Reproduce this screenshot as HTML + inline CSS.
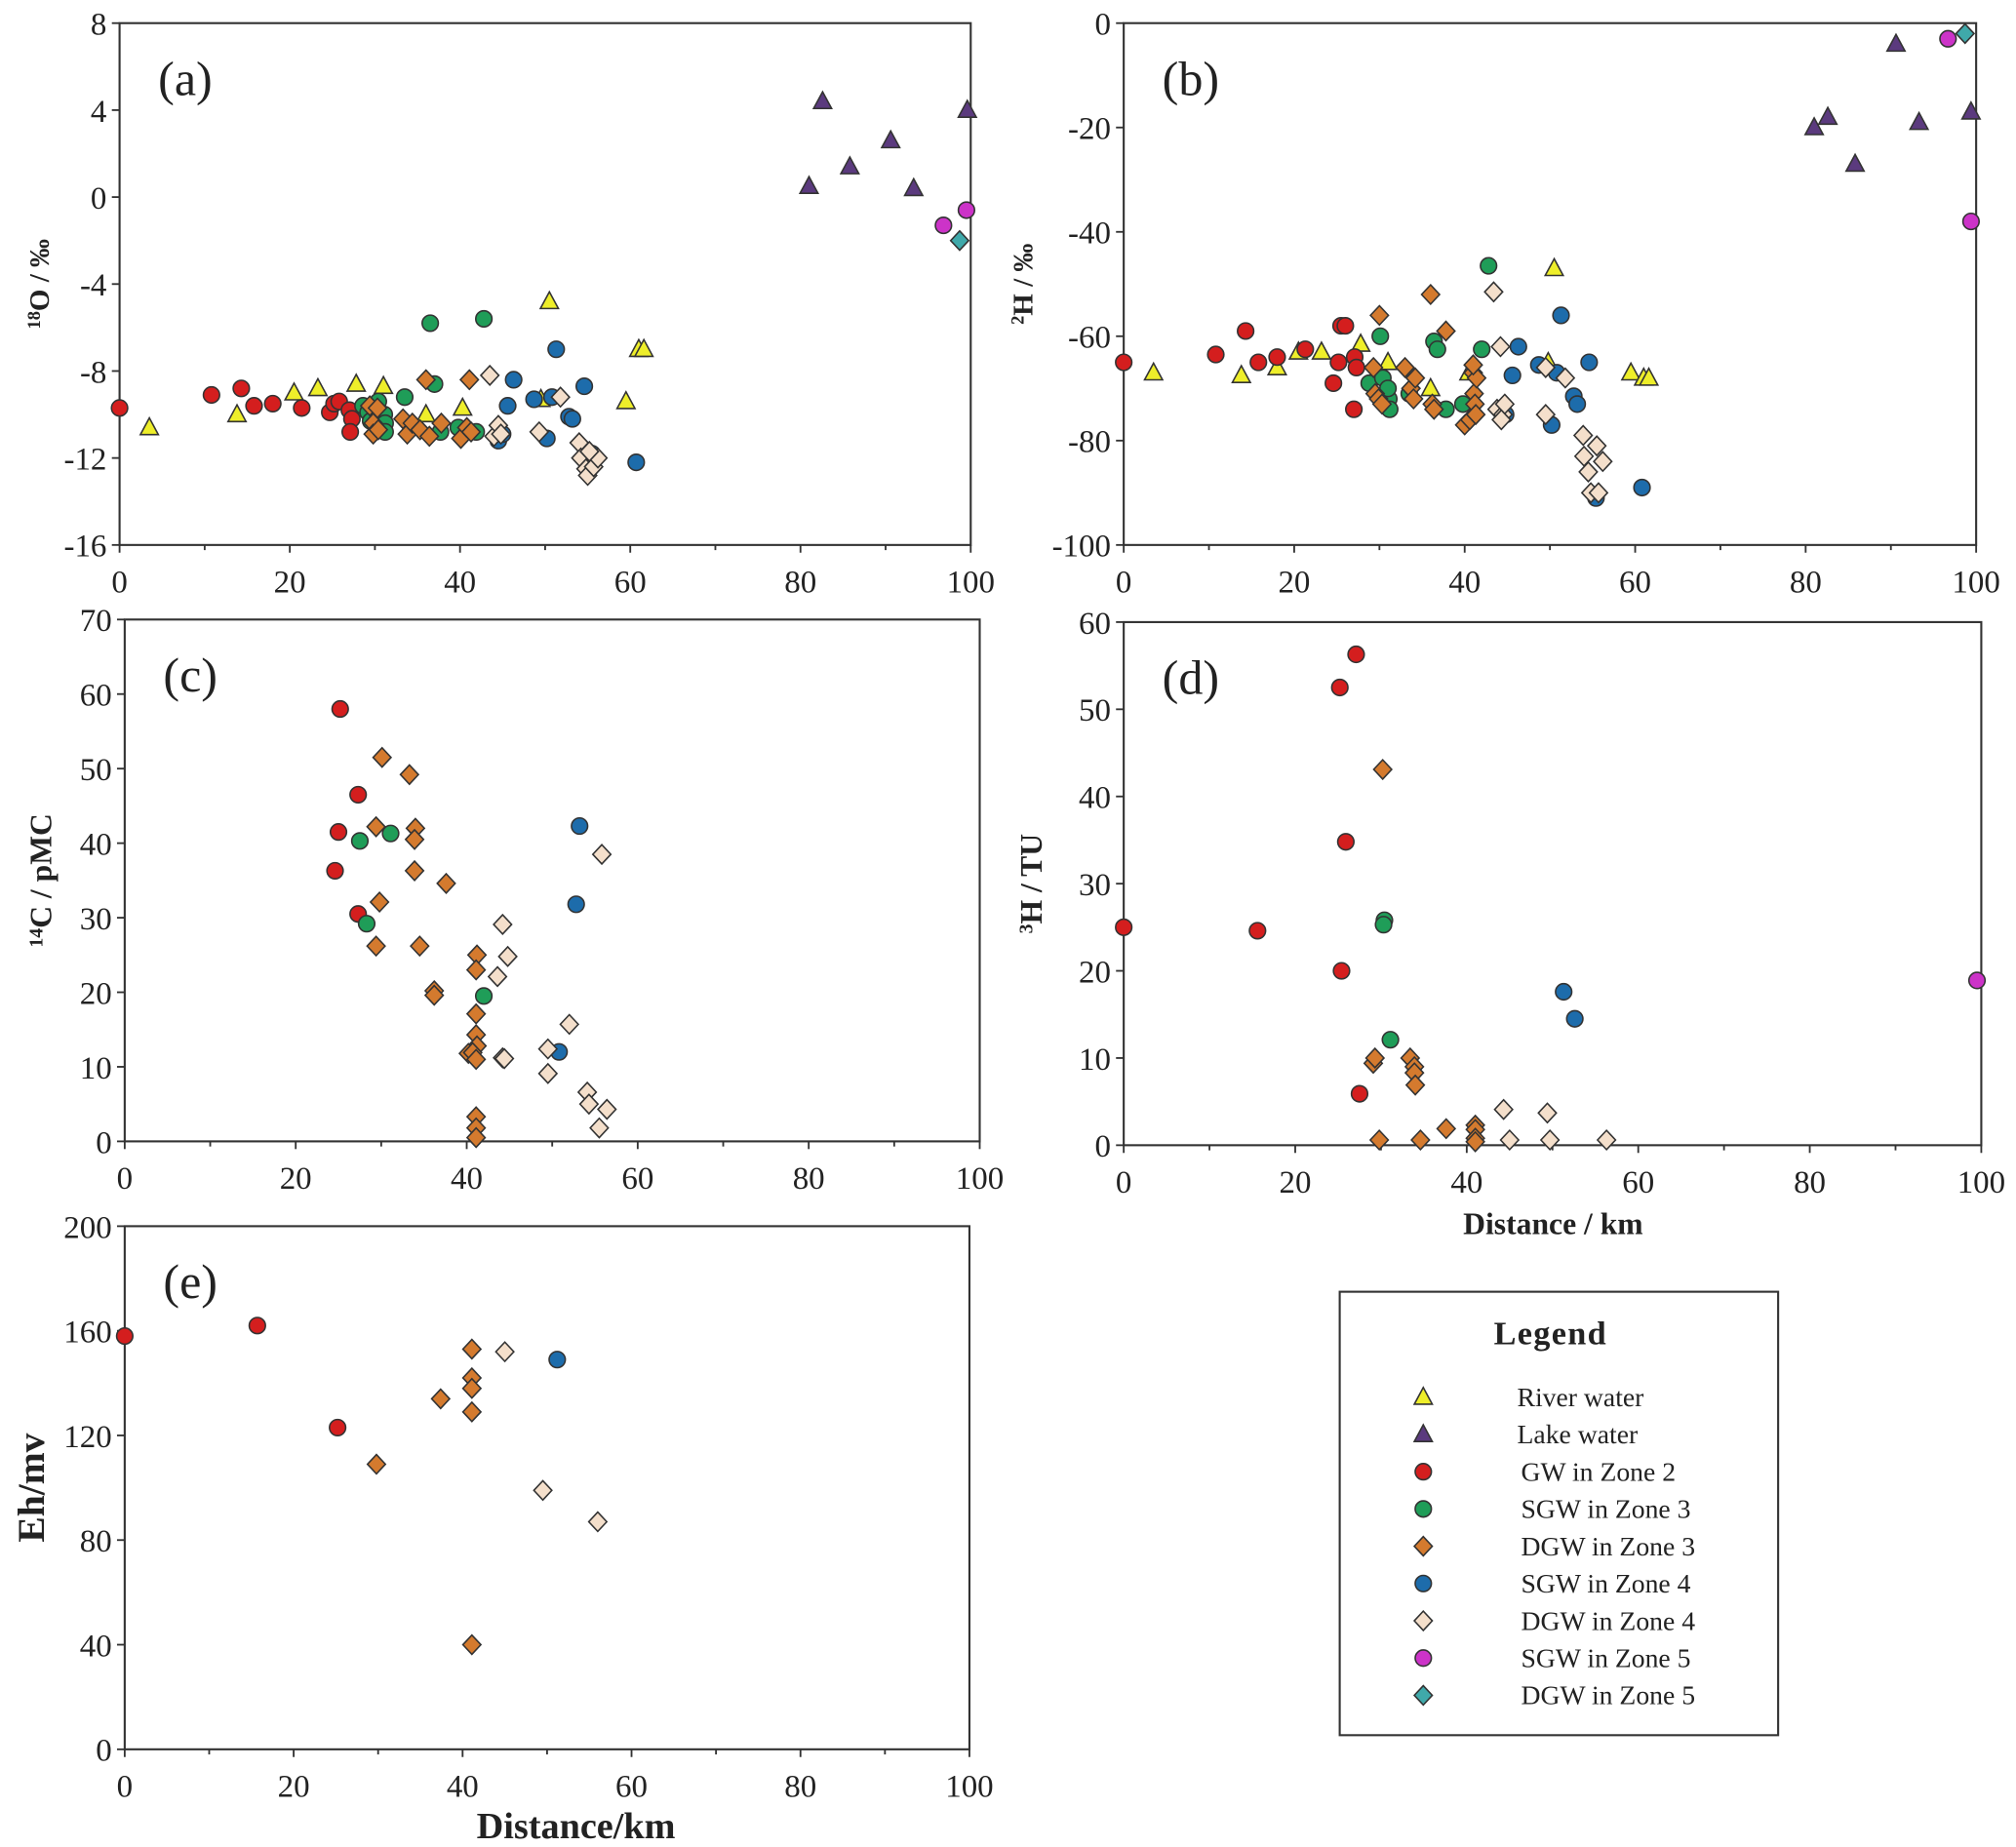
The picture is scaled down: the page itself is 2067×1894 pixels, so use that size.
<!DOCTYPE html>
<html><head><meta charset="utf-8"><style>
html,body{margin:0;padding:0;background:#fff;}
svg{display:block;}
text{font-family:"Liberation Serif",serif;fill:#222;}
</style></head><body>
<svg id="fig" xmlns="http://www.w3.org/2000/svg" width="2067" height="1894" viewBox="0 0 1568 1437" preserveAspectRatio="none"></svg>
<script>
// ---------- data ----------
const xTicks = [0,20,40,60,80,100];
const aTicks = [8,4,0,-4,-8,-12,-16];
const bTicks = [0,-20,-40,-60,-80,-100];
const cTicks = [70,60,50,40,30,20,10,0];
const dTicks = [60,50,40,30,20,10,0];
const eTicks = [200,160,120,80,40,0];

const a_river = [[3.5,-10.6],[13.8,-10.0],[20.5,-9.0],[23.3,-8.8],[27.8,-8.6],[31,-8.7],[36,-10.0],[40.3,-9.7],[50.5,-4.8],[49.5,-9.3],[59.5,-9.4],[61,-7.0],[61.6,-7.0]];
const a_lake = [[81,0.5],[82.6,4.4],[85.8,1.4],[90.6,2.6],[93.3,0.4],[99.6,4.0]];
const a_gw2 = [[0,-9.7],[10.8,-9.1],[14.3,-8.8],[15.8,-9.6],[18,-9.5],[21.4,-9.7],[24.7,-9.9],[25.2,-9.5],[25.8,-9.4],[27,-9.8],[27.3,-10.2],[27.1,-10.8]];
const a_sgw3 = [[28.6,-9.6],[29.2,-9.9],[29.5,-10.3],[30.4,-9.4],[31.1,-10.0],[31.2,-10.4],[31.2,-10.8],[33.5,-9.2],[36.5,-5.8],[37,-8.6],[37.7,-10.8],[39.8,-10.6],[41.9,-10.8],[42.8,-5.6]];
const a_dgw3 = [[29.4,-9.6],[29.8,-10.4],[29.8,-10.9],[30.3,-9.7],[30.4,-10.7],[33.3,-10.2],[33.8,-10.9],[34.4,-10.4],[35.3,-10.7],[36,-8.4],[36.4,-11.0],[37.8,-10.4],[40.1,-11.1],[40.8,-10.6],[41.1,-8.4],[41.3,-10.8]];
const a_sgw4 = [[44.5,-11.2],[45,-10.9],[45.6,-9.6],[46.3,-8.4],[48.7,-9.3],[50.2,-11.1],[50.8,-9.2],[51.3,-7.0],[52.8,-10.1],[53.2,-10.2],[54.6,-8.7],[55.5,-11.8],[60.7,-12.2]];
const a_dgw4 = [[43.5,-8.2],[44,-11.0],[44.5,-10.5],[44.8,-10.9],[49.3,-10.8],[51.8,-9.2],[54,-11.3],[54.2,-12.0],[54.8,-12.5],[55,-12.8],[55.7,-12.4],[56.2,-12.0],[55.2,-11.7]];
const a_sgw5 = [[96.8,-1.3],[99.5,-0.6]];
const a_dgw5 = [[98.7,-2.0]];

const b_river = [[3.5,-67],[13.8,-67.5],[18,-66],[20.5,-63],[23.2,-63],[27.8,-61.5],[31,-65],[36,-70],[40.5,-67],[49.8,-65],[50.5,-47],[59.5,-67],[61,-68],[61.6,-68]];
const b_lake = [[81,-20],[82.6,-18],[85.8,-27],[90.6,-4],[93.3,-19],[99.4,-17]];
const b_gw2 = [[0,-65],[10.8,-63.5],[14.3,-59],[15.8,-65],[18,-64],[21.3,-62.5],[24.6,-69],[25.2,-65],[25.5,-58],[26,-58],[27.1,-64],[27.3,-66],[27,-74]];
const b_sgw3 = [[28.8,-69],[30.1,-60],[30.4,-68],[31.1,-72],[31.2,-74],[31,-70],[33.5,-71],[36.4,-61],[36.8,-62.5],[37.8,-74],[39.8,-73],[42,-62.5],[42.8,-46.5]];
const b_dgw3 = [[29.3,-66],[29.5,-71],[29.9,-72],[30,-56],[30.3,-73],[33,-66],[33.7,-70],[34,-72],[34.2,-68],[36,-52],[36.2,-73],[36.4,-74],[37.8,-59],[40,-77],[40.6,-76],[41,-67],[41.1,-71],[41.2,-73],[41.3,-75],[41.4,-68],[41,-65.5]];
const b_sgw4 = [[44.8,-75],[45.6,-67.5],[46.3,-62],[48.7,-65.5],[50.2,-77],[50.8,-67],[51.3,-56],[52.8,-71.5],[53.2,-73],[54.6,-65],[55.4,-91],[60.8,-89]];
const b_dgw4 = [[43.4,-51.5],[44.2,-62],[43.8,-74],[44.5,-75],[44.7,-73],[44.3,-76],[49.5,-66],[49.5,-75],[51.8,-68],[53.9,-79],[54,-83],[54.5,-86],[54.8,-90],[55.5,-81],[55.7,-90],[56.2,-84]];
const b_sgw5 = [[96.7,-3],[99.4,-38]];
const b_dgw5 = [[98.7,-2]];

const c_gw2 = [[25.2,58],[27.3,46.5],[25,41.5],[24.6,36.3],[27.3,30.5]];
const c_sgw3 = [[27.5,40.3],[28.3,29.2],[31.1,41.3],[42,19.5]];
const c_dgw3 = [[30.1,51.5],[33.3,49.2],[29.4,42.2],[34,42],[33.9,40.5],[33.9,36.3],[37.6,34.6],[29.8,32.1],[29.4,26.2],[34.5,26.2],[36.2,20.2],[36.2,19.6],[41.2,25],[41.1,23],[41.1,17.1],[41.1,14.3],[41.2,12.8],[40.2,11.8],[40.7,11.9],[41.1,11],[41.1,3.3],[41.1,1.8],[41.1,0.5]];
const c_sgw4 = [[53.2,42.3],[52.8,31.8],[50.8,12]];
const c_dgw4 = [[55.8,38.5],[44.2,29.1],[44.8,24.8],[43.6,22.1],[44.2,11.2],[44.4,11.1],[52,15.7],[49.5,12.4],[49.5,9.1],[54.1,6.6],[54.3,5],[56.4,4.3],[55.5,1.8]];

const d_gw2 = [[0,25],[15.6,24.6],[25.2,52.5],[27.1,56.3],[25.9,34.8],[25.4,20],[27.5,5.9]];
const d_sgw3 = [[30.4,25.8],[30.3,25.3],[31.1,12.1]];
const d_dgw3 = [[29.1,9.4],[29.3,10],[30.2,43.1],[33.4,10],[33.9,9],[33.9,8.3],[34,6.9],[29.8,0.6],[34.6,0.6],[37.6,1.9],[41,2.3],[41,1.8],[41,0.8],[41,0.4]];
const d_sgw4 = [[51.3,17.6],[52.6,14.5]];
const d_dgw4 = [[44.3,4.1],[49.4,3.7],[45,0.6],[49.7,0.6],[56.3,0.6]];
const d_sgw5 = [[99.5,18.9]];

const e_gw2 = [[0,158],[15.7,162],[25.2,123]];
const e_dgw3 = [[29.8,109],[37.4,134],[41.1,153],[41.1,142],[41.1,138],[41.1,129],[41.1,40]];
const e_sgw4 = [[51.2,149]];
const e_dgw4 = [[45,152],[49.5,99],[56,87]];

const legendLabels = ["River water","Lake water","GW in Zone 2","SGW in Zone 3","DGW in Zone 3","SGW in Zone 4","DGW in Zone 4","SGW in Zone 5","DGW in Zone 5"];

// ---------- styles ----------
const STY = {
  river:{shape:'tri',fill:'#eeee2a'}, lake:{shape:'tri',fill:'#5b3a7e'},
  gw2:{shape:'circ',fill:'#d41e1e'}, sgw3:{shape:'circ',fill:'#1f9d58'},
  dgw3:{shape:'dia',fill:'#d47a2e'}, sgw4:{shape:'circ',fill:'#1d6cab'},
  dgw4:{shape:'dia',fill:'#f4dfcb'}, sgw5:{shape:'circ',fill:'#cc33c8'},
  dgw5:{shape:'dia',fill:'#3fa9aa'}
};
const SVGNS='http://www.w3.org/2000/svg';
const svg=document.getElementById('fig');
function mk(tag,attrs,parent){const e=document.createElementNS(SVGNS,tag);for(const k in attrs)e.setAttribute(k,attrs[k]);(parent||svg).appendChild(e);return e;}

function marker(g,key,px,py){
  const s=STY[key];let el;
  if(s.shape==='circ') el=mk('circle',{cx:px,cy:py,r:6.3,fill:s.fill,stroke:'#333','stroke-width':1.2},g);
  else if(s.shape==='tri') el=mk('polygon',{points:`${px},${py-7.5} ${px-7},${py+5.5} ${px+7},${py+5.5}`,fill:s.fill,stroke:'#333','stroke-width':1.2},g);
  else el=mk('polygon',{points:`${px},${py-7.5} ${px+7},${py} ${px},${py+7.5} ${px-7},${py}`,fill:s.fill,stroke:'#333','stroke-width':1.2},g);
  
  
}

function panel(p){
  const g=mk('g',{});
  
  
  const sx=v=>p.x0+(v-0)/100*(p.x1-p.x0);
  const sy=v=>p.yb-(v-p.ymin)/(p.ymax-p.ymin)*(p.yb-p.yt);
  const frame=mk('rect',{x:p.x0,y:p.yt,width:p.x1-p.x0,height:p.yb-p.yt,fill:'none',stroke:'#333','stroke-width':1.6},g);
  
  
  // x ticks
  for(let v=0;v<=100;v+=10){const X=sx(v);mk('line',{x1:X,y1:p.yb,x2:X,y2:p.yb+(v%20===0?6:4),stroke:'#333','stroke-width':1.4},g);}
  xTicks.forEach(v=>{const t=mk('text',{x:sx(v),y:p.yb+37,'font-size':25,'text-anchor':'middle'},g);t.textContent=v;
    
    });
  p.ticks.forEach(v=>{const Y=sy(v);mk('line',{x1:p.x0-6,y1:Y,x2:p.x0,y2:Y,stroke:'#333','stroke-width':1.4},g);
    const t=mk('text',{x:p.x0-10,y:Y+9,'font-size':25,'text-anchor':'end'},g);t.textContent=v;
    
    });
  const lab=mk('text',{x:p.x0+30,y:p.yt+56,'font-size':38},g);lab.textContent='('+p.id+')';
  
  
  const yt=mk('text',{transform:`translate(${p.tx},${(p.yt+p.yb)/2}) rotate(-90)`,'font-size':p.tfs||22,'font-weight':'bold','text-anchor':'middle'},g);
  yt.innerHTML=p.title;
  
  
  p.series.forEach(([key,arr])=>arr.forEach(([x,y])=>marker(g,key,sx(x),sy(y))));
}

panel({id:'a',x0:93,x1:755,yt:18,yb:424,ymin:-16,ymax:8,ticks:aTicks,tx:38,
  title:'<tspan font-size="14" dy="-7">18</tspan><tspan dy="7">O / ‰</tspan>',
  series:[['river',a_river],['lake',a_lake],['gw2',a_gw2],['sgw3',a_sgw3],['dgw3',a_dgw3],['sgw4',a_sgw4],['dgw4',a_dgw4],['sgw5',a_sgw5],['dgw5',a_dgw5]]});
panel({id:'b',x0:874,x1:1537,yt:18,yb:424,ymin:-100,ymax:0,ticks:bTicks,tx:803,
  title:'<tspan font-size="14" dy="-7">2</tspan><tspan dy="7">H / ‰</tspan>',
  series:[['river',b_river],['lake',b_lake],['gw2',b_gw2],['sgw3',b_sgw3],['dgw3',b_dgw3],['sgw4',b_sgw4],['dgw4',b_dgw4],['sgw5',b_sgw5],['dgw5',b_dgw5]]});
panel({id:'c',x0:97,x1:762,yt:482,yb:888,ymin:0,ymax:70,ticks:cTicks,tx:40,tfs:24,
  title:'<tspan font-size="15" dy="-7">14</tspan><tspan dy="7">C / pMC</tspan>',
  series:[['gw2',c_gw2],['sgw3',c_sgw3],['dgw3',c_dgw3],['sgw4',c_sgw4],['dgw4',c_dgw4]]});
panel({id:'d',x0:874,x1:1541,yt:484,yb:891,ymin:0,ymax:60,ticks:dTicks,tx:810,tfs:24,
  title:'<tspan font-size="15" dy="-7">3</tspan><tspan dy="7">H / TU</tspan>',
  series:[['gw2',d_gw2],['sgw3',d_sgw3],['dgw3',d_dgw3],['sgw4',d_sgw4],['dgw4',d_dgw4],['sgw5',d_sgw5]]});
panel({id:'e',x0:97,x1:754,yt:954,yb:1361,ymin:0,ymax:200,ticks:eTicks,tx:34,tfs:30,
  title:'Eh/mv',
  series:[['gw2',e_gw2],['dgw3',e_dgw3],['sgw4',e_sgw4],['dgw4',e_dgw4]]});

const xt1=mk('text',{x:1208,y:960,'font-size':24,'font-weight':'bold','text-anchor':'middle'});xt1.textContent='Distance / km';


const xt2=mk('text',{x:448,y:1430,'font-size':29,'font-weight':'bold','text-anchor':'middle'});xt2.textContent='Distance/km';



// legend
const lg=mk('g',{});


mk('rect',{x:1042,y:1005,width:341,height:345,fill:'#fff',stroke:'#333','stroke-width':1.6},lg);
const lt=mk('text',{x:1206,y:1046,'font-size':26,'font-weight':'bold','text-anchor':'middle','letter-spacing':1},lg);lt.textContent='Legend';


const keys=['river','lake','gw2','sgw3','dgw3','sgw4','dgw4','sgw5','dgw5'];
keys.forEach((k,i)=>{const y=1087+i*29;marker(lg,k,1107,y);
  const t=mk('text',{x:i<2?1180:1183,y:y+7,'font-size':21},lg);t.textContent=legendLabels[i];
  
  });
</script>
</body></html>
